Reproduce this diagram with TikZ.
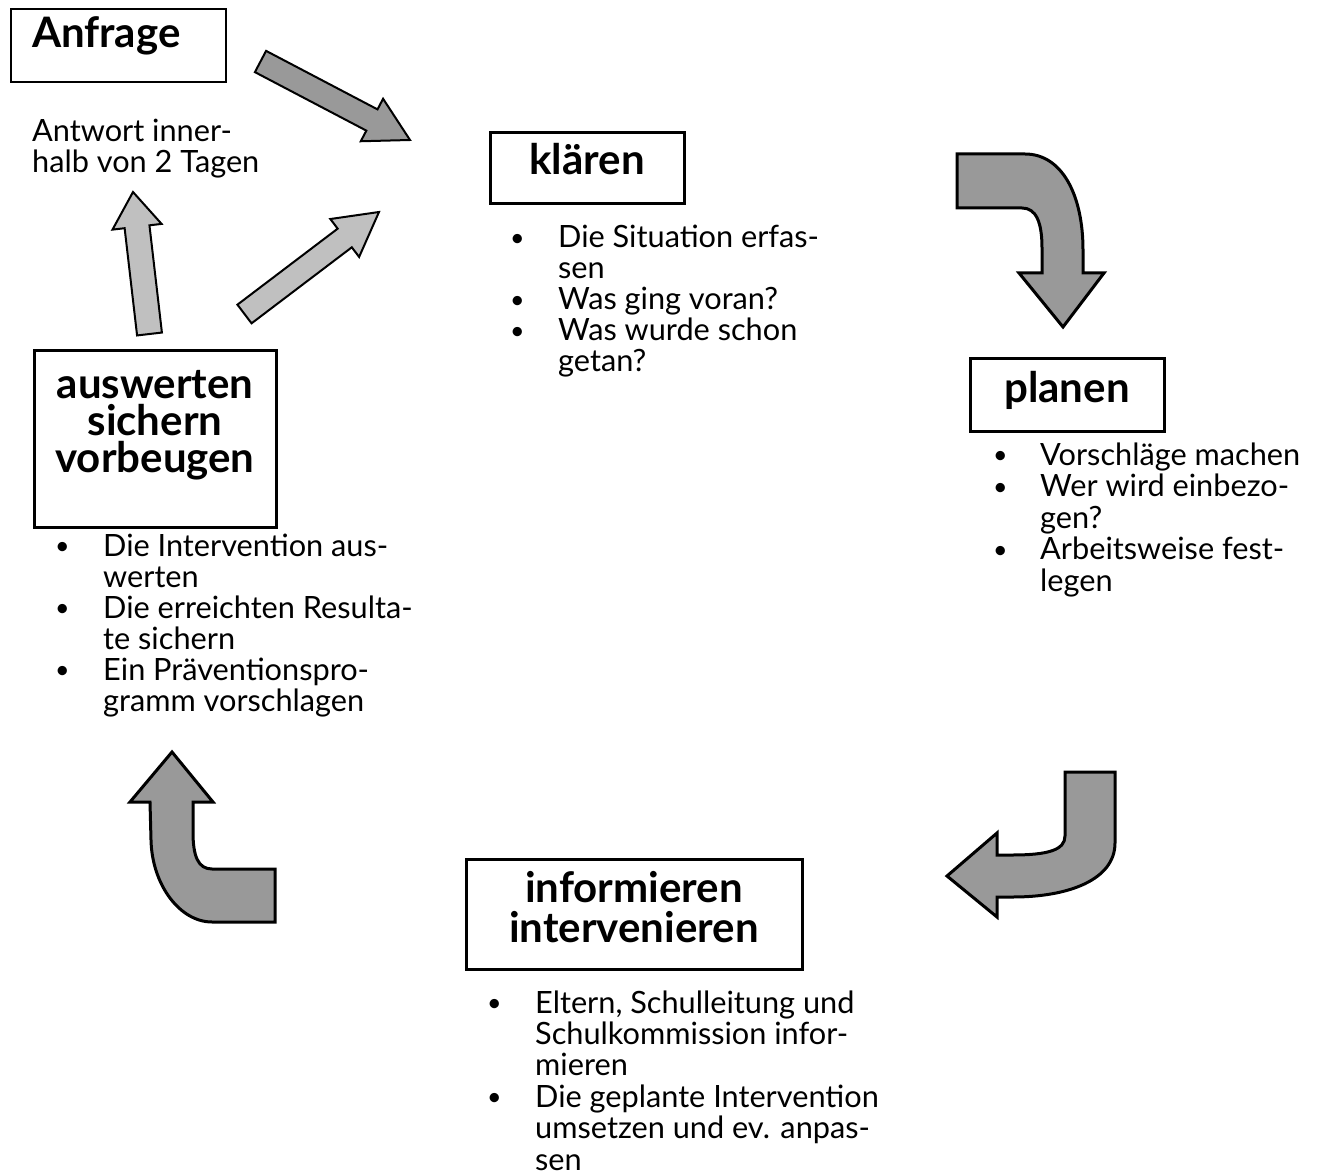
\documentclass[tikz,border=0pt]{standalone}
\usepackage{fontspec}
\setmainfont{Lato}
\usetikzlibrary{calc}
\definecolor{darkfill}{HTML}{999999}
\definecolor{lightfill}{HTML}{C0C0C0}
\newcommand\bodyfont{\fontsize{30.7}{31}\selectfont}
\newcommand\headfont{\fontsize{42}{40}\selectfont\bfseries}
\newcommand\bul{\raisebox{1.5pt}{\fontsize{25}{25}\selectfont •}}
% left-aligned lines with exact spacing
\newcommand\blines[2]{\vtop{\lineskiplimit=-1000pt\relax\baselineskip=#1\relax\halign{##\hfil\cr#2\crcr}}}
% centred lines with exact spacing
\newcommand\clines[2]{\vtop{\lineskiplimit=-1000pt\relax\baselineskip=#1\relax\halign{\hfil##\hfil\cr#2\crcr}}}
% bullet list: spacing, bullet column width, rows
\newcommand\blist[3]{\vtop{\lineskiplimit=-1000pt\relax\baselineskip=#1\relax\halign{\hbox to #2{##\hfil}&##\hfil\cr#3\crcr}}}
% straight block arrow: tail, tip, half shaft, half head, head length, style
\newcommand\blockarr[6]{%
  \coordinate (tmpB) at ($(#2)!#5!(#1)$);
  \filldraw[#6] ($(#1)!#3!90:(#2)$) -- ($(tmpB)!#3!90:(#2)$) -- ($(tmpB)!#4!90:(#2)$) -- (#2)
     -- ($(tmpB)!#4!-90:(#2)$) -- ($(tmpB)!#3!-90:(#2)$) -- ($(#1)!#3!-90:(#2)$) -- cycle;}
\begin{document}
\begin{tikzpicture}[x=1pt,y=-1pt,
  box/.style={draw, line width=3pt, inner sep=0pt, font=\headfont},
  thinbox/.style={draw, line width=1.6pt, inner sep=0pt, font=\headfont},
  txt/.style={inner sep=0pt, anchor=base west, font=\bodyfont},
  darkarrow/.style={draw=black, fill=darkfill, line width=2pt, line join=miter},
  lightarrow/.style={draw=black, fill=lightfill, line width=2pt, line join=miter},
  bentarrow/.style={draw=black, fill=darkfill, line width=3pt, line join=miter}]
\useasboundingbox (0,0) rectangle (1317,1174);

% boxes
\node[thinbox, minimum width=215pt, minimum height=73pt, text height=20pt, text depth=15pt]
  (anfrage) at (118.5,45.5) {\hbox to 173pt{Anfrage\hfil}};
\node[box, minimum width=194pt, minimum height=71pt, text height=20pt, text depth=7pt]
  (klaeren) at (587,168.5) {\clines{40pt}{klären}};
\node[box, minimum width=194pt, minimum height=73pt, text height=20pt, text depth=5pt]
  (planen) at (1067,394.5) {\clines{40pt}{planen}};
\node[box, minimum width=242pt, minimum height=177pt, text height=20pt, text depth=101pt]
  (auswerten) at (155,438.5) {\clines{37pt}{auswerten\cr sichern\cr vorbeugen}};
\node[box, minimum width=336pt, minimum height=110pt, text height=20pt, text depth=44pt]
  (informieren) at (634,914) {\clines{40pt}{informieren\cr intervenieren}};

% texts
\node[txt] (antwort) at (32,142) {\blines{31pt}{Antwort inner-\cr halb von 2 Tagen}};
\node[txt] (klist) at (510,248) {\blist{31pt}{48pt}{\bul&Die Situation erfas-\cr &sen\cr \bul&Was ging voran?\cr \bul&Was wurde schon\cr &getan?}};
\node[txt] (plist) at (993,465) {\blist{31.5pt}{47pt}{\bul&Vorschläge machen\cr \bul&Wer wird einbezo-\cr &gen?\cr \bul&Arbeitsweise fest-\cr &legen}};
\node[txt] (alist) at (55,556) {\blist{31pt}{48pt}{\bul&Die Intervention aus-\cr &werten\cr \bul&Die erreichten Resulta-\cr &te sichern\cr \bul&Ein Präventionspro-\cr &gramm vorschlagen}};
\node[txt] (ilist) at (487,1013) {\blist{31.4pt}{48pt}{\bul&Eltern, Schulleitung und\cr &Schulkommission infor-\cr &mieren\cr \bul&Die geplante Intervention\cr &umsetzen und ev. anpas-\cr &sen}};

% straight block arrows
\coordinate (a1t) at (260.5,61.5);  \coordinate (a1h) at (410,140);
\coordinate (a2t) at (149.5,334);   \coordinate (a2h) at (133,192);
\coordinate (a3t) at (244.5,314);   \coordinate (a3h) at (379,212);
\blockarr{a1t}{a1h}{12pt}{24pt}{43pt}{darkarrow}
\blockarr{a2t}{a2h}{12.5pt}{24.7pt}{35pt}{lightarrow}
\blockarr{a3t}{a3h}{11.7pt}{23.8pt}{43pt}{lightarrow}

% bent arrows
\filldraw[bentarrow] (957,154) -- (1025,154) .. controls (1062,154) and (1083,195) .. (1083,250)
  -- (1083,273) -- (1104,273) -- (1063,327) -- (1019,273) -- (1042,273) -- (1042,248)
  .. controls (1042,222) and (1036,208) .. (1022,208) -- (957,208) -- cycle;
\filldraw[bentarrow] (1065,772) -- (1115,772) -- (1115,843) .. controls (1115,880) and (1068,897) .. (1013,897)
  -- (997,897) -- (997,917) -- (947,876) -- (997,833) -- (997,855) -- (1012,855)
  .. controls (1048,855) and (1065,850) .. (1065,836) -- cycle;
\filldraw[bentarrow] (275,869) -- (275,922) -- (212,922) .. controls (180,922) and (152,885) .. (151,840)
  -- (150,802) -- (130,802) -- (172,752) -- (213,802) -- (193,802) -- (193,832)
  .. controls (193,856) and (198,869) .. (212,869) -- cycle;
\end{tikzpicture}
\end{document}
